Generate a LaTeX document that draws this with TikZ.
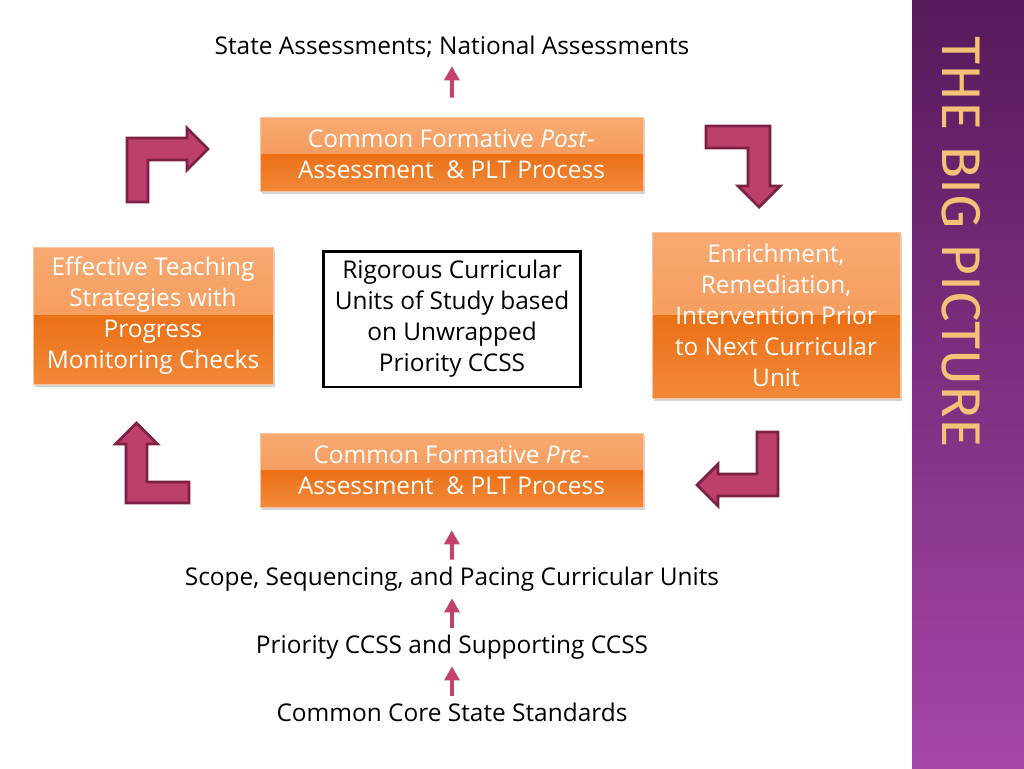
\documentclass[tikz,border=0pt]{standalone}
\usepackage{fontspec}
\setmainfont{Open Sans}
\newfontfamily\titlefont{Fira Sans}
\usetikzlibrary{arrows.meta,shadows}

\definecolor{barTop}{HTML}{561A5B}
\definecolor{barBottom}{HTML}{A646A7}
\definecolor{titleGold}{HTML}{F4C277}
\definecolor{orangeLight}{HTML}{F8AA72}
\definecolor{orangeMid}{HTML}{F3904C}
\definecolor{orangeDark}{HTML}{EC7016}
\definecolor{orangeLow}{HTML}{F1893A}
\definecolor{arrowFill}{HTML}{BC3F6C}
\definecolor{arrowEdge}{HTML}{7D2046}
\definecolor{upArrow}{HTML}{C2416F}

\tikzset{
  bodyfont/.style={font=\fontsize{13.9}{17.6}\selectfont},
  plaintext/.style={bodyfont, inner sep=0pt, text height=10pt, text depth=3pt},
  orangebox/.style={bodyfont, text=white, align=center, inner sep=2pt,
    draw=orangeLight!70!white, line width=0.5pt,
    drop shadow={opacity=0.35, shadow xshift=1pt, shadow yshift=-1.5pt},
    path picture={
      \shade[top color=orangeLight, bottom color=orangeMid]
        (path picture bounding box.north west) rectangle (path picture bounding box.east);
      \shade[top color=orangeDark, bottom color=orangeLow]
        (path picture bounding box.west) rectangle (path picture bounding box.south east);
    }},
  unitbox/.style={bodyfont, align=center, fill=white, draw=black, line width=1.7pt},
  bigarrow/.style={fill=arrowFill, draw=arrowEdge, line width=1.6pt, line join=miter},
  uparrow/.style={draw=upArrow, line width=2.3pt, -{Triangle[width=8.5pt,length=8pt]},
    shorten >=4.3pt, shorten <=4.3pt}
}

\begin{document}
\begin{tikzpicture}[x=0.02cm, y=-0.02cm]
  \useasboundingbox (0,0) rectangle (1024,768);

  % Side bar with title
  \shade[top color=barTop, bottom color=barBottom] (912,0) rectangle (1024,768);
  \node[rotate=-90, text=titleGold, font=\titlefont\fontsize{31}{31}\selectfont]
    (title) at (961,242) {THE BIG PICTURE};

  % Cycle boxes
  \node[orangebox, minimum width=7.66cm, minimum height=1.48cm] (post) at (451.5,154)
    {Common Formative \textit{Post}-\\Assessment \ \& PLT Process};
  \node[orangebox, minimum width=4.96cm, minimum height=3.32cm] (enrich) at (776,315)
    {Enrichment,\\Remediation,\\Intervention Prior\\to Next Curricular\\Unit};
  \node[orangebox, minimum width=7.66cm, minimum height=1.48cm] (pre) at (451.5,470)
    {Common Formative \textit{Pre}-\\Assessment \ \& PLT Process};
  \node[orangebox, minimum width=4.8cm, minimum height=2.74cm] (teach) at (153,315.5)
    {Effective Teaching\\Strategies with\\Progress\\Monitoring Checks};
  \node[unitbox, minimum width=5.16cm, minimum height=2.72cm] (units) at (452,319)
    {Rigorous Curricular\\Units of Study based\\on Unwrapped\\Priority CCSS};

  % Bent arrows round the cycle
  \draw[bigarrow] (127,202) -- (127,138) -- (187,138) -- (187,128) -- (208,149)
    -- (187,170) -- (187,160) -- (148,160) -- (148,202) -- cycle;
  \draw[bigarrow] (706,126) -- (770,126) -- (770,186) -- (780,186) -- (759,207)
    -- (738,186) -- (748,186) -- (748,148) -- (706,148) -- cycle;
  \draw[bigarrow] (778,432) -- (778,496) -- (718,496) -- (718,506) -- (697,485)
    -- (718,464) -- (718,474) -- (757,474) -- (757,432) -- cycle;
  \draw[bigarrow] (189,503) -- (126,503) -- (126,444) -- (115.5,444) -- (136.5,423)
    -- (157.5,444) -- (147,444) -- (147,482) -- (189,482) -- cycle;

  % Outside texts
  \node[plaintext] (state) at (452,48) {State Assessments; National Assessments};
  \node[plaintext] (scope) at (452,579) {Scope, Sequencing, and Pacing Curricular Units};
  \node[plaintext] (priority) at (452,647) {Priority CCSS and Supporting CCSS};
  \node[plaintext] (ccss) at (452,715) {Common Core State Standards};

  % Small arrows
  \draw[uparrow, shorten <=10.8pt, shorten >=3.7pt] (post) -- (state);
  \draw[uparrow, shorten >=13pt] (scope) -- (pre);
  \draw[uparrow] (priority) -- (scope);
  \draw[uparrow] (ccss) -- (priority);
\end{tikzpicture}
\end{document}
